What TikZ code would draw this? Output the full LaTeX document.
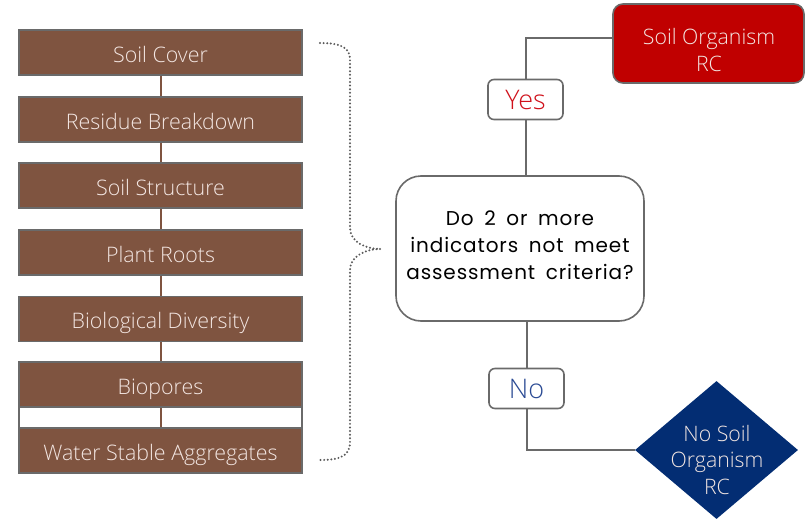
\documentclass[tikz,border=0pt]{standalone}
\usepackage{fontspec}
\setmainfont{Open Sans}[UprightFont=* Light]
\newfontfamily\qfont{Poppins}[LetterSpace=4.5, WordSpace=1.7]
\usetikzlibrary{shapes.geometric}
\definecolor{brownfill}{HTML}{7F5440}
\definecolor{boxline}{HTML}{6A6A6A}
\definecolor{lighttext}{HTML}{F3E6E2}
\definecolor{redfill}{HTML}{C00000}
\definecolor{navyfill}{HTML}{032D73}
\definecolor{yesred}{HTML}{D0111B}
\definecolor{noblue}{HTML}{2A4A94}
\definecolor{dotgray}{HTML}{5A5A5A}
\tikzset{
  indbox/.style={draw=boxline, line width=1.6pt, fill=brownfill, text=lighttext,
    minimum width=283pt, minimum height=45pt, inner sep=0pt,
    text height=19pt, text depth=0pt,
    font=\fontsize{21.4}{24}\selectfont},
  brownlink/.style={draw=brownfill, line width=2pt},
  flowline/.style={draw=boxline, line width=2pt},
  decbox/.style={draw=boxline, line width=1.6pt, fill=white, rounded corners=25pt,
    minimum width=248pt, minimum height=145pt, inner sep=0pt},
  dectext/.style={align=center, inner sep=0pt, font=\qfont\fontsize{20}{27}\selectfont},
  tagbox/.style={draw=boxline, line width=1.6pt, fill=white, rounded corners=6pt,
    minimum width=75pt, minimum height=40pt, inner sep=0pt,
    font=\fontsize{27}{30}\selectfont},
  resbox/.style={draw=boxline, line width=1.6pt, fill=redfill, rounded corners=10pt,
    minimum width=191pt, minimum height=79pt, inner sep=0pt},
  nodia/.style={diamond, fill=navyfill, minimum width=163pt, minimum height=138pt,
    inner sep=0pt, aspect=1.18},
  lighttextstyle/.style={align=center, inner sep=0pt, text=lighttext, font=\fontsize{21.3}{26.5}\selectfont},
  bracestyle/.style={draw=dotgray, line width=2.2pt, line cap=round,
    dash pattern=on 0pt off 3.6pt}
}
\begin{document}
\begin{tikzpicture}[x=1pt, y=-1pt]
\useasboundingbox (0,0) rectangle (805,522);
% left indicator column
\node[draw=boxline, line width=1.6pt, fill=white, minimum width=283pt, minimum height=21pt, inner sep=0pt] (gap) at (160.5,417.5) {};
\node[indbox] (cover) at (160.5,52.5) {Soil Cover};
\node[indbox] (residue) at (160.5,119.5) {Residue Breakdown};
\node[indbox] (structure) at (160.5,185.5) {Soil Structure};
\node[indbox] (roots) at (160.5,252.5) {Plant Roots};
\node[indbox] (diversity) at (160.5,319) {Biological Diversity};
\node[indbox] (biopores) at (160.5,384.5) {Biopores};
\node[indbox] (water) at (160.5,450.5) {Water Stable Aggregates};
\draw[brownlink] (cover.south) -- (residue.north);
\draw[brownlink] (residue.south) -- (structure.north);
\draw[brownlink] (structure.south) -- (roots.north);
\draw[brownlink] (roots.south) -- (diversity.north);
\draw[brownlink] (diversity.south) -- (biopores.north);
\draw[brownlink] (biopores.south) -- (water.north);
% brace
\coordinate (btop) at (320,43);
\coordinate (btip) at (380,249);
\coordinate (bbot) at (320,460);
\draw[bracestyle] (btop) .. controls (342,43) and (350,48) .. (350,60) -- (350,228)
  .. controls (350,242) and (366,249) .. (btip);
\draw[bracestyle] (btip) .. controls (366,249) and (350,256) .. (350,270) -- (350,442)
  .. controls (350,455) and (342,460) .. (bbot);
% decision
\node[decbox] (dec) at (520,248.5) {};
\node[dectext] (dectxt) at (520,245) {Do 2 or more\\indicators not meet\\assessment criteria?};
\node[tagbox, text=yesred] (yes) at (525.5,99.5) {Yes};
\node[tagbox, text=noblue] (no) at (526.5,388.5) {No};
\node[resbox] (soc) at (708.5,43.5) {};
\node[lighttextstyle] (soctxt) at (709,50) {Soil Organism\\RC};
\node[nodia] (nosoil) at (716.5,450) {};
\node[lighttextstyle] (nosoiltxt) at (717,460) {No Soil\\Organism\\RC};
\draw[flowline] (dec.north -| yes.south) -- (yes.south);
\draw[flowline] (yes.north) |- ([yshift=5.5pt]soc.west);
\draw[flowline] (dec.south -| no.north) -- (no.north);
\draw[flowline] (no.south) |- (nosoil.west);
\end{tikzpicture}
\end{document}
